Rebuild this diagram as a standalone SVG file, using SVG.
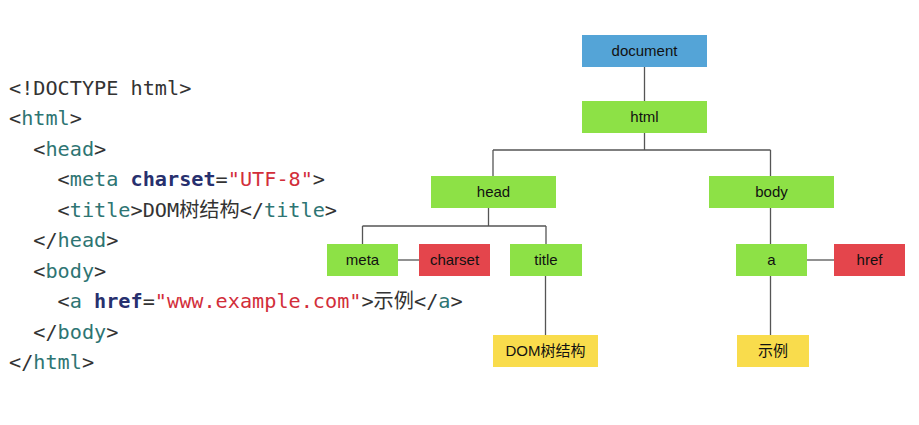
<svg xmlns="http://www.w3.org/2000/svg" width="919" height="425" viewBox="0 0 919 425">
<style>
.code{font-family:"DejaVu Sans Mono","Noto Sans CJK SC",monospace;font-size:20.2px;fill:#333;white-space:pre}
.t{fill:#2e7573}
.k{fill:#27306e;font-weight:bold}
.s{fill:#d22e3a}
.lbl{font-family:"Liberation Sans","Noto Sans CJK SC",sans-serif;font-size:15px;fill:#111;text-anchor:middle}
.blue{fill:#54a4d7}
.green{fill:#8de146}
.red{fill:#e4454c}
.yellow{fill:#f9dc4c}
.conn line{stroke:#555;stroke-width:1.3}
</style>
<rect width="919" height="425" fill="#fff"/>
<g id="code">
<text class="code" x="9" y="95">&lt;!DOCTYPE html&gt;</text>
<text class="code" x="9" y="125.4">&lt;<tspan class="t">html</tspan>&gt;</text>
<text class="code" x="33.3" y="155.9">&lt;<tspan class="t">head</tspan>&gt;</text>
<text class="code" x="57.6" y="186.3">&lt;<tspan class="t">meta</tspan> <tspan class="k">charset</tspan>=<tspan class="s">"UTF-8"</tspan>&gt;</text>
<text class="code" x="57.6" y="216.8">&lt;<tspan class="t">title</tspan>&gt;DOM树结构&lt;/<tspan class="t">title</tspan>&gt;</text>
<text class="code" x="33.3" y="247.2">&lt;/<tspan class="t">head</tspan>&gt;</text>
<text class="code" x="33.3" y="277.6">&lt;<tspan class="t">body</tspan>&gt;</text>
<text class="code" x="57.6" y="308.1">&lt;<tspan class="t">a</tspan> <tspan class="k">href</tspan>=<tspan class="s">"www.example.com"</tspan>&gt;示例&lt;/<tspan class="t">a</tspan>&gt;</text>
<text class="code" x="33.3" y="338.5">&lt;/<tspan class="t">body</tspan>&gt;</text>
<text class="code" x="9" y="369">&lt;/<tspan class="t">html</tspan>&gt;</text>
</g>
<g id="connectors" class="conn">
<line x1="644.5" y1="67" x2="644.5" y2="101"/>
<line x1="644.5" y1="133" x2="644.5" y2="150"/>
<line x1="493" y1="150" x2="770.5" y2="150"/>
<line x1="493" y1="150" x2="493" y2="176"/>
<line x1="770.5" y1="150" x2="770.5" y2="176"/>
<line x1="488.5" y1="208" x2="488.5" y2="226"/>
<line x1="362.5" y1="226" x2="546" y2="226"/>
<line x1="362.5" y1="226" x2="362.5" y2="244"/>
<line x1="546" y1="226" x2="546" y2="244"/>
<line x1="398" y1="260" x2="419" y2="260"/>
<line x1="545.5" y1="276" x2="545.5" y2="335"/>
<line x1="770.5" y1="208" x2="770.5" y2="244"/>
<line x1="807" y1="260" x2="834" y2="260"/>
<line x1="770.5" y1="276" x2="770.5" y2="335"/>
</g>
<g id="node-document"><rect class="blue" x="582" y="35" width="125" height="32"/><text class="lbl" x="644.5" y="56">document</text></g>
<g id="node-html"><rect class="green" x="582" y="101" width="125" height="32"/><text class="lbl" x="644.5" y="122">html</text></g>
<g id="node-head"><rect class="green" x="431" y="176" width="125" height="32"/><text class="lbl" x="493.5" y="197">head</text></g>
<g id="node-body"><rect class="green" x="709" y="176" width="125" height="32"/><text class="lbl" x="771.5" y="197">body</text></g>
<g id="node-meta"><rect class="green" x="327" y="244" width="71" height="32"/><text class="lbl" x="362.5" y="265">meta</text></g>
<g id="node-charset"><rect class="red" x="419" y="244" width="71" height="32"/><text class="lbl" x="454.5" y="265">charset</text></g>
<g id="node-title"><rect class="green" x="510" y="244" width="72" height="32"/><text class="lbl" x="546" y="265">title</text></g>
<g id="node-a"><rect class="green" x="736" y="244" width="71" height="32"/><text class="lbl" x="771.5" y="265">a</text></g>
<g id="node-href"><rect class="red" x="834" y="244" width="71" height="32"/><text class="lbl" x="869.5" y="265">href</text></g>
<g id="node-domtext"><rect class="yellow" x="493" y="335" width="105" height="32"/><text class="lbl" x="545.5" y="356">DOM树结构</text></g>
<g id="node-example"><rect class="yellow" x="737" y="335" width="72" height="32"/><text class="lbl" x="773" y="356">示例</text></g>
</svg>
